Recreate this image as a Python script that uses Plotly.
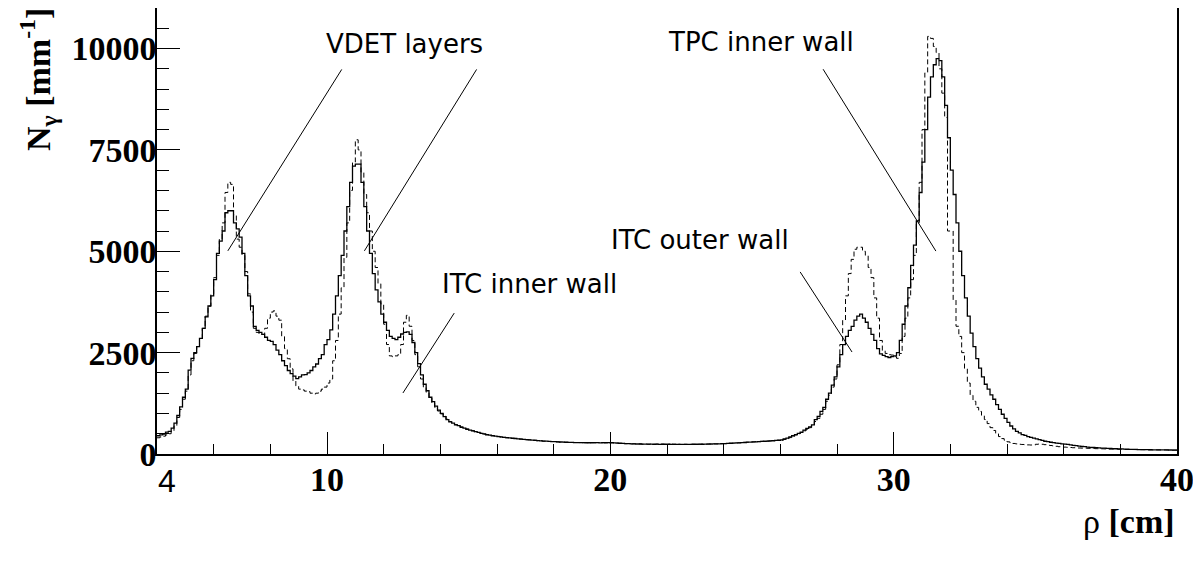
import numpy as np
import plotly.graph_objects as go

# ---------------- data ----------------
rho_start = 4.0      # cm, first bin lower edge
bin_width = 0.1      # cm

# solid histogram (N_gamma per bin), 4.0 .. 40.0 cm, one row per cm
solid = [
    450, 470, 490, 540, 560, 640, 760, 950, 1160, 1400,
    1600, 2070, 2360, 2500, 2650, 2850, 3100, 3380, 3650, 3900,
    4300, 4950, 5250, 5500, 5950, 6000, 6000, 5700, 5550, 5350,
    4950, 4400, 3900, 3650, 3150, 3050, 3000, 2950, 2880, 2800,
    2780, 2700, 2560, 2450, 2300, 2180, 2060, 1980, 1920, 1860,
    1900, 1950, 1960, 2000, 2060, 2150, 2220, 2350, 2450, 2700,
    2820, 3060, 3450, 3900, 4400, 4900, 5500, 6100, 6700, 7100,
    7150, 7150, 6700, 6100, 5500, 4950, 4450, 4050, 3750, 3450,
    3250, 3050, 2900, 2850, 2820, 2880, 2960, 3000, 3010, 2950,
    2750, 2500, 2230, 1950, 1720, 1560, 1400, 1290, 1180, 1080,
    1000, 920, 850, 790, 760, 720, 700, 660, 640, 610,
    590, 570, 550, 535, 510, 495, 475, 465, 450, 442,
    430, 422, 410, 402, 396, 388, 382, 374, 368, 360,
    356, 348, 342, 338, 330, 326, 320, 316, 310, 306,
    304, 298, 296, 292, 290, 286, 287, 282, 283, 280,
    281, 278, 280, 277, 281, 279, 276, 280, 278, 279,
    278, 272, 270, 265, 263, 257, 256, 251, 250, 247,
    247, 244, 245, 242, 243, 240, 242, 239, 241, 240,
    240, 238, 240, 237, 239, 236, 238, 239, 237, 240,
    240, 242, 241, 244, 245, 247, 248, 251, 252, 255,
    258, 260, 265, 267, 273, 275, 281, 284, 291, 294,
    299, 301, 307, 309, 315, 317, 323, 327, 335, 339,
    350, 370, 390, 420, 450, 480, 510, 540, 590, 630,
    670, 720, 850, 930, 1050, 1150, 1350, 1500, 1700, 1900,
    2150, 2450, 2700, 2900, 3050, 3150, 3300, 3400, 3450, 3350,
    3250, 3100, 2950, 2800, 2600, 2470, 2430, 2400, 2380, 2400,
    2420, 2500, 2800, 3200, 3650, 4100, 4650, 5150, 5750, 6450,
    7200, 8000, 8800, 9300, 9600, 9750, 9700, 9300, 8600, 7800,
    7000, 6400, 5700, 5000, 4400, 3850, 3400, 2980, 2650, 2350,
    2120, 1900, 1720, 1600, 1460, 1350, 1220, 1100, 980, 880,
    780, 690, 620, 560, 520, 480, 460, 430, 410, 390,
    375, 355, 335, 315, 303, 290, 280, 270, 260, 250,
    245, 235, 225, 215, 205, 195, 185, 180, 172, 165,
    160, 155, 150, 147, 143, 140, 136, 133, 130, 127,
    125, 122, 118, 115, 114, 112, 110, 108, 107, 106,
    105, 104, 103, 102, 101, 100, 100, 99, 98, 97,
]

# dashed histogram, same binning
dashed = [
    400, 420, 440, 470, 500, 560, 700, 900, 1100, 1350,
    1550, 1950, 2300, 2480, 2650, 2850, 3100, 3400, 3650, 3950,
    4350, 4900, 5300, 5700, 6450, 6700, 6650, 5900, 5300, 5100,
    4900, 4500, 3950, 3500, 3100, 3000, 2950, 2950, 3100, 3350,
    3500, 3530, 3400, 3300, 2900, 2600, 2350, 2100, 1800, 1680,
    1600, 1580, 1550, 1540, 1500, 1480, 1500, 1550, 1600, 1650,
    1750, 1850, 2300, 2800, 3450, 4100, 4850, 5700, 6500, 7200,
    7750, 7500, 6950, 6400, 5950, 5500, 5000, 4600, 4200, 3700,
    3200, 2700, 2420, 2400, 2420, 2450, 2700, 3250, 3420, 3150,
    2800, 2450, 2150, 1850, 1650, 1520, 1380, 1260, 1150, 1060,
    990, 930, 860, 800, 750, 725, 690, 665, 635, 615,
    585, 575, 545, 530, 515, 490, 480, 460, 455, 440,
    435, 418, 414, 400, 398, 385, 384, 372, 370, 358,
    352, 350, 340, 340, 328, 328, 318, 318, 308, 308,
    300, 300, 292, 294, 288, 288, 284, 284, 280, 282,
    278, 280, 276, 281, 276, 282, 278, 278, 280, 276,
    280, 270, 272, 262, 265, 255, 258, 249, 252, 245,
    249, 242, 247, 240, 245, 238, 244, 237, 243, 238,
    242, 236, 242, 235, 241, 234, 240, 237, 239, 238,
    242, 239, 244, 242, 247, 245, 250, 249, 254, 253,
    256, 262, 263, 269, 271, 277, 279, 286, 289, 296,
    297, 303, 305, 311, 313, 319, 321, 329, 333, 341,
    340, 360, 380, 405, 440, 470, 500, 530, 570, 610,
    650, 700, 800, 880, 980, 1100, 1300, 1450, 1650, 1850,
    2200, 2700, 3300, 3900, 4450, 4800, 5050, 5100, 5100, 5000,
    4900, 4600, 4350, 3850, 3350, 2800, 2550, 2480, 2450, 2440,
    2400, 2360, 2480, 2900, 3350, 3850, 4300, 4900, 5700, 6700,
    8000, 9400, 10300, 10250, 10050, 9900, 9500, 8900, 8300, 5500,
    5500, 3800, 3150, 2900, 2500, 2100, 1750, 1450, 1300, 1150,
    1050, 950, 850, 750, 650, 580, 500, 430, 380, 340,
    300, 280, 260, 250, 240, 235, 230, 225, 222, 220,
    240, 245, 240, 230, 220, 210, 200, 190, 180, 175,
    170, 165, 160, 155, 150, 148, 145, 142, 140, 137,
    135, 132, 130, 128, 126, 124, 122, 120, 118, 116,
    115, 113, 112, 111, 110, 109, 108, 107, 106, 105,
    104, 103, 102, 101, 100, 100, 99, 98, 97, 97,
]

x_tickvals = [10, 20, 30, 40]
x_ticktext = ["10", "20", "30", "40"]
y_tickvals = [0, 2500, 5000, 7500, 10000]
y_ticktext = ["0", "2500", "5000", "7500", "10000"]

# annotation labels: (text, x[cm], y[N])
labels = [
    ("VDET layers", 12.73, 10120),
    ("TPC inner wall", 25.33, 10170),
    ("ITC outer wall", 23.18, 5270),
    ("ITC inner wall", 17.16, 4200),
]
# pointer lines: (x0, y0, x1, y1) in data units
pointers = [
    (6.50, 5010, 10.52, 9485),
    (11.32, 5010, 15.28, 9485),
    (12.68, 1505, 14.49, 3475),
    (26.70, 4490, 28.53, 2515),
    (27.51, 9490, 31.49, 5005),
]

# ---------------- figure ----------------
edges = rho_start + bin_width * np.arange(len(solid) + 1)

fig = go.Figure()
fig.add_trace(go.Scatter(
    x=edges, y=dashed + [dashed[-1]], mode="lines",
    line=dict(shape="hv", color="black", width=1.0, dash="5px,3px"),
    hoverinfo="skip"))
fig.add_trace(go.Scatter(
    x=edges, y=solid + [solid[-1]], mode="lines",
    line=dict(shape="hv", color="black", width=1.3),
    hoverinfo="skip"))

serif_bold = dict(family="Liberation Serif", size=34, color="black", weight="bold")

# the page body has an 8px margin, so the figure is 8px smaller than the window
fig.update_layout(
    width=1193, height=555,
    margin=dict(l=149, r=24, t=0, b=109, autoexpand=False),
    paper_bgcolor="white", plot_bgcolor="white",
    showlegend=False,
    xaxis=dict(
        range=[4, 40], tickmode="array", tickvals=x_tickvals, ticktext=x_ticktext,
        ticks="inside", ticklen=22, tickwidth=1, tickcolor="black",
        showline=True, linecolor="black", linewidth=1.5, mirror=True,
        showgrid=False, zeroline=False, tickfont=serif_bold,
        ticklabelstandoff=-6,
        minor=dict(dtick=2, tick0=0, ticks="inside", ticklen=10,
                   tickcolor="black", tickwidth=1, showgrid=False),
    ),
    yaxis=dict(
        range=[0, 11000], tickmode="array", tickvals=y_tickvals, ticktext=y_ticktext,
        ticks="inside", ticklen=23, tickwidth=1, tickcolor="black",
        showline=True, linecolor="black", linewidth=1.5, mirror=True,
        showgrid=False, zeroline=False, tickfont=serif_bold,
        ticklabelstandoff=-8,
        minor=dict(dtick=500, tick0=0, ticks="inside", ticklen=12,
                   tickcolor="black", tickwidth=1, showgrid=False),
    ),
)

for x0, y0, x1, y1 in pointers:
    fig.add_shape(type="line", x0=x0, y0=y0, x1=x1, y1=y1, xref="x", yref="y",
                  line=dict(color="black", width=1))

for text, lx, ly in labels:
    fig.add_annotation(x=lx, y=ly, xref="x", yref="y", text=text, showarrow=False,
                       xanchor="center", yanchor="middle",
                       font=dict(family="DejaVu Sans", size=26, color="black"))

# "4" label at the left end of the x axis (plain sans font as in the original)
fig.add_annotation(x=4, y=-0.061, xref="x", yref="paper", text="4", showarrow=False,
                   xanchor="center", yanchor="middle", xshift=10,
                   font=dict(family="Liberation Sans", size=32, color="black"))

# axis titles
fig.add_annotation(x=-0.117, y=0.84, xref="paper", yref="paper",
                   text="<b>N<sub>γ</sub> [mm<sup>-1</sup>]</b>", textangle=-90,
                   showarrow=False, xanchor="center", yanchor="middle",
                   font=dict(family="Liberation Serif", size=34, color="black"))
fig.add_annotation(x=1.0, y=-0.152, xref="paper", yref="paper",
                   text="ρ <b>[cm]</b>", showarrow=False,
                   xanchor="right", yanchor="middle",
                   font=dict(family="Liberation Serif", size=34, color="black"))

fig.write_html("out.html")
